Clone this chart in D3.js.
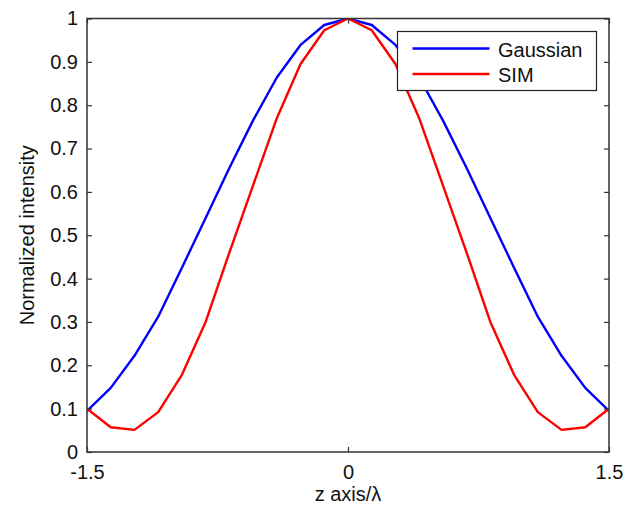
<!DOCTYPE html>
<html>
<head>
<meta charset="utf-8">
<script src="https://cdn.jsdelivr.net/npm/d3@7"></script>
<style>
  body { margin: 0; background: #fff; }
  text { font-family: "Liberation Sans", Arial, sans-serif; fill: #111; }
</style>
</head>
<body>
<div id="container"></div>
<script>
// z positions (in units of lambda)
var zValues = [-1.5, -1.3636, -1.2273, -1.0909, -0.9545, -0.8182, -0.6818, -0.5455,
  -0.4091, -0.2727, -0.1364, 0, 0.1364, 0.2727, 0.4091, 0.5455, 0.6818, 0.8182,
  0.9545, 1.0909, 1.2273, 1.3636, 1.5];

var gaussian = [0.095, 0.148, 0.222, 0.312, 0.425, 0.54, 0.655, 0.765, 0.864, 0.939, 0.985, 1.0,
  0.985, 0.939, 0.864, 0.765, 0.655, 0.54, 0.425, 0.312, 0.222, 0.148, 0.095];

var sim = [0.10, 0.057, 0.051, 0.092, 0.178, 0.30, 0.46, 0.615, 0.77, 0.895, 0.973, 1.0,
  0.973, 0.895, 0.77, 0.615, 0.46, 0.30, 0.178, 0.092, 0.051, 0.057, 0.10];

var xTicks = [-1.5, 0, 1.5];
var yTicks = [0, 0.1, 0.2, 0.3, 0.4, 0.5, 0.6, 0.7, 0.8, 0.9, 1];

var seriesNames = ["Gaussian", "SIM"];
var seriesColors = ["#0000ff", "#ff0000"];

width = 638;
height = 511;
margin = { top: 18.5, right: 29, bottom: 59, left: 87 };
fontSize = "20px";

var svg = d3.select("#container")
  .append("svg")
  .attr("width", width)
  .attr("height", height);

var plotW = width - margin.left - margin.right;
var plotH = height - margin.top - margin.bottom;

var x = d3.scaleLinear().domain([-1.5, 1.5]).range([0, plotW]);
var y = d3.scaleLinear().domain([0, 1]).range([plotH, 0]);

var g = svg.append("g")
  .attr("transform", "translate(" + margin.left + "," + margin.top + ")");

// clip so lines stay inside the box
g.append("clipPath").attr("id", "clip")
  .append("rect").attr("width", plotW).attr("height", plotH);

var line = d3.line()
  .x(function(d) { return x(d[0]); })
  .y(function(d) { return y(d[1]); });

[gaussian, sim].forEach(function(vals, i) {
  g.append("path")
    .datum(zValues.map(function(z, j) { return [z, vals[j]]; }))
    .attr("clip-path", "url(#clip)")
    .attr("fill", "none")
    .attr("stroke", seriesColors[i])
    .attr("stroke-width", 2.4)
    .attr("stroke-linejoin", "round")
    .attr("d", line);
});

// plain labels with a hyphen minus, like matlab
var plain = function(d) { return String(d); };

// axes, matlab style: ticks inside, on all four sides
function styleAxis(sel) {
  sel.select(".domain").remove();
  sel.selectAll("line").attr("stroke", "#333").attr("stroke-width", 1.2);
  sel.selectAll("text").style("font-size", fontSize)
    .style("font-family", "Liberation Sans, Arial, sans-serif").attr("fill", "#111");
}

g.append("g")
  .attr("transform", "translate(0," + plotH + ")")
  .call(d3.axisBottom(x).tickValues(xTicks).tickSize(-5).tickPadding(13).tickFormat(plain))
  .call(styleAxis);

g.append("g")
  .call(d3.axisTop(x).tickValues(xTicks).tickSize(-5).tickFormat(""))
  .call(styleAxis);

g.append("g")
  .call(d3.axisLeft(y).tickValues(yTicks).tickSize(-5).tickPadding(9).tickFormat(plain))
  .call(styleAxis);

g.append("g")
  .attr("transform", "translate(" + plotW + ",0)")
  .call(d3.axisRight(y).tickValues(yTicks).tickSize(-5).tickFormat(""))
  .call(styleAxis);

// box
g.append("rect")
  .attr("width", plotW)
  .attr("height", plotH)
  .attr("fill", "none")
  .attr("stroke", "#333")
  .attr("stroke-width", 1.5);

// axis titles
g.append("text")
  .attr("x", plotW / 2)
  .attr("y", plotH + 49)
  .attr("text-anchor", "middle")
  .style("font-size", fontSize)
  .text("z axis/\u03bb");

g.append("text")
  .attr("transform", "translate(" + (-53) + "," + (plotH / 2) + ") rotate(-90)")
  .attr("text-anchor", "middle")
  .style("font-size", fontSize)
  .text("Normalized intensity");

// legend
var legend = g.append("g")
  .attr("transform", "translate(" + (397.5 - margin.left) + "," + (31.5 - margin.top) + ")");

legend.append("rect")
  .attr("width", 199)
  .attr("height", 59)
  .attr("fill", "#fff")
  .attr("stroke", "#222")
  .attr("stroke-width", 1.2);

seriesNames.forEach(function(name, i) {
  var ly = 17 + i * 25.5;
  legend.append("line")
    .attr("x1", 15).attr("x2", 92)
    .attr("y1", ly).attr("y2", ly)
    .attr("stroke", seriesColors[i])
    .attr("stroke-width", 2.4);
  legend.append("text")
    .attr("x", 100.5)
    .attr("y", ly + 8)
    .style("font-size", fontSize)
    .text(name);
});
</script>
</body>
</html>
